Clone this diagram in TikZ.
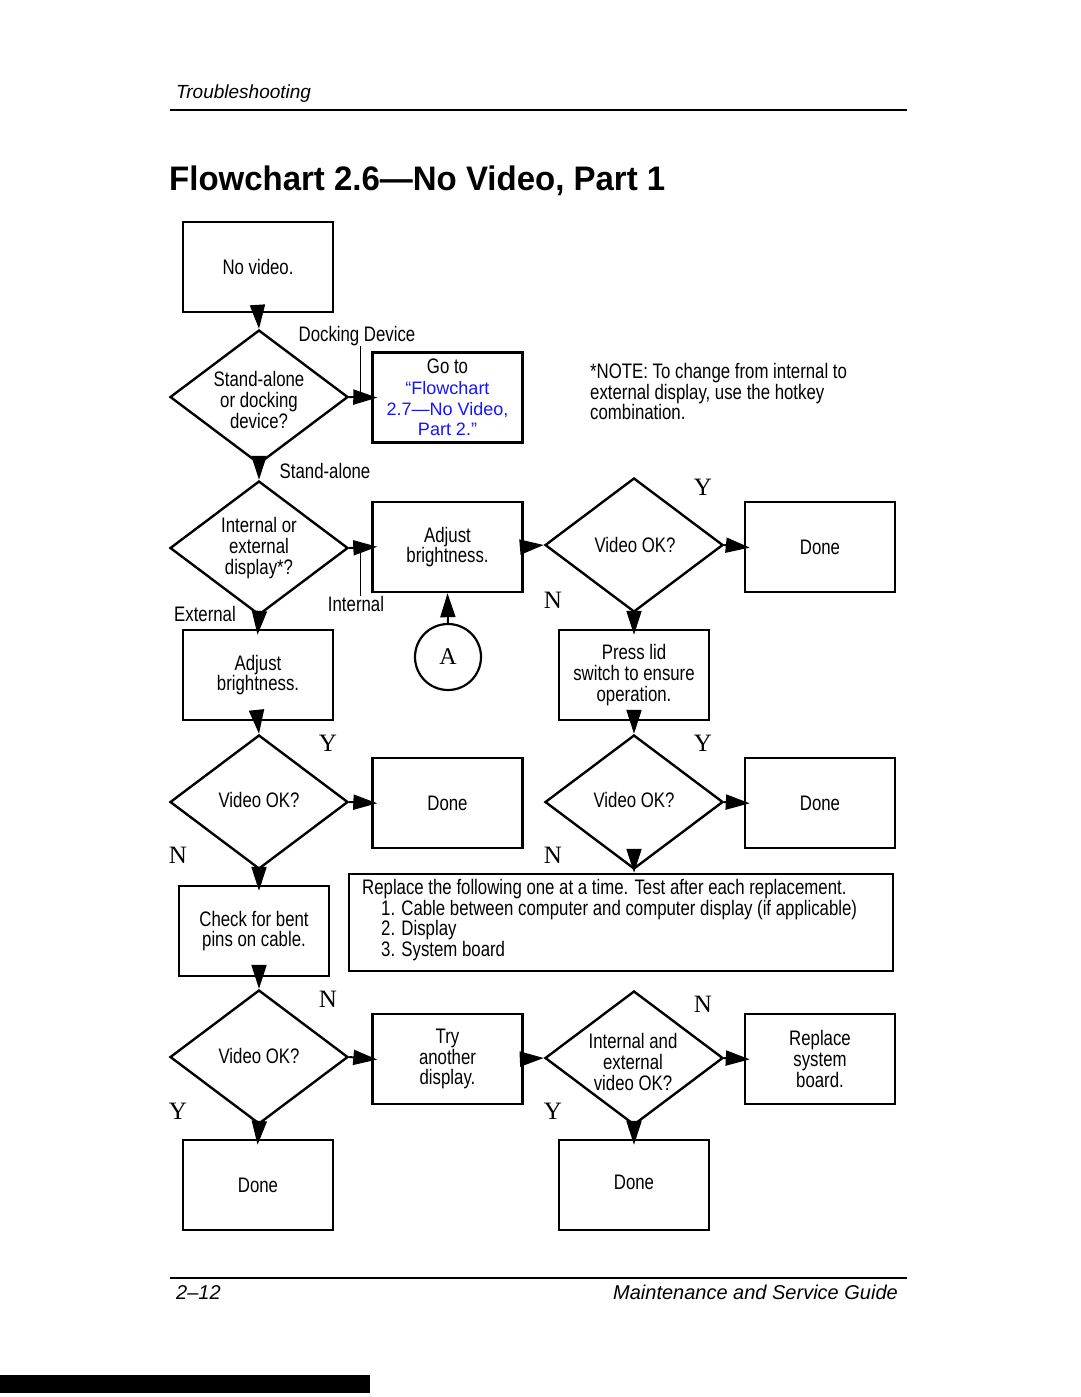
\documentclass[tikz,border=0pt]{standalone}
\usepackage{fontspec}
\setmainfont{Liberation Sans}[FakeStretch=0.8]
\newfontfamily\ynfont{Liberation Serif}
\newfontfamily\hdrfont{Liberation Sans}
\newfontfamily\titlefont{Liberation Sans}[FakeStretch=0.97]
\usetikzlibrary{arrows.meta,shapes.geometric}
\definecolor{linkblue}{RGB}{20,20,255}
\newcommand{\lnk}[1]{{\hdrfont\fontsize{18}{20.7}\selectfont\color{linkblue}#1}}
\begin{document}
\begin{tikzpicture}[x=1pt,y=-1pt,
  txt/.style={font=\fontsize{21}{20.7}\selectfont},
  box/.style={draw,line width=2.4pt,rectangle,minimum width=150pt,minimum height=90pt,inner sep=0pt,align=center,txt},
  dia/.style={draw,line width=2.4pt,diamond,minimum width=178pt,minimum height=134pt,inner sep=0pt},
  dtext/.style={align=center,inner sep=0pt,txt},
  lbl/.style={inner sep=0pt,txt},
  yn/.style={inner sep=0pt,font=\ynfont\fontsize{25}{25}\selectfont},
  conn/.style={line width=2pt,-{Triangle[length=24pt,width=15pt]}},
  connb/.style={conn,shorten >=-6pt},
  leader/.style={line width=0.9pt}
]
\useasboundingbox (0,0) rectangle (1080,1397);

% header / footer
\node[anchor=base west,inner sep=0pt,font=\hdrfont\itshape\fontsize{19}{19}\selectfont] (hdr) at (176,99) {Troubleshooting};
\draw[line width=1.3pt] (170,110) coordinate (hl1) -- (907,110) coordinate (hl2);
\node[anchor=base west,inner sep=0pt,font=\titlefont\bfseries\fontsize{34}{34}\selectfont] (title) at (169,190) {Flowchart 2.6—No Video, Part 1};
\draw[line width=1.3pt] (170,1278) coordinate (fl1) -- (907,1278) coordinate (fl2);
\node[anchor=base west,inner sep=0pt,font=\hdrfont\itshape\fontsize{20}{20}\selectfont] (pg) at (176,1299) {2–12};
\node[anchor=base east,inner sep=0pt,font=\hdrfont\itshape\fontsize{20}{20}\selectfont] (guide) at (898,1299) {Maintenance and Service Guide};
\fill (0,1375) rectangle (370,1393);

% boxes
\node[box] (nov) at (258,267) {No video.};
\node[box] (goto) at (447.5,397.5) {Go to\\\lnk{“Flowchart}\\\lnk{2.7—No Video,}\\\lnk{Part 2.”}};
\node[box] (adj1) at (447.5,547) {Adjust\\brightness.};
\node[box] (done1) at (820,547) {Done};
\node[box] (adj2) at (258,675) {Adjust\\brightness.};
\node[box] (press) at (634,675) {Press lid\\switch to ensure\\operation.};
\node[box] (done2) at (447.5,803) {Done};
\node[box] (done3) at (820,803) {Done};
\node[box] (check) at (254,931) {Check for bent\\pins on cable.};
\node[box,minimum width=544pt,minimum height=97pt] (repl) at (621,922.5) {};
\node[anchor=north west,align=left,inner sep=0pt,txt] (repltxt) at (362,879) {Replace the following one at a time. Test after each replacement.\\
\hspace*{19pt}1. Cable between computer and computer display (if applicable)\\
\hspace*{19pt}2. Display\\
\hspace*{19pt}3. System board};
\node[box] (try) at (447.5,1059) {Try\\another\\display.};
\node[box] (rsb) at (820,1059) {Replace\\system\\board.};
\node[box] (done4) at (258,1185) {Done};
\node[box] (done5) at (634,1185) {};
\node[lbl] (done5t) at (634,1182) {Done};

% diamonds
\node[dia] (d1) at (259,397) {};
\node[dtext] (d1t) at (259,400) {Stand-alone\\or docking\\device?};
\node[dia] (d2) at (259,548) {};
\node[dtext] (d2t) at (259,548) {Internal or\\external\\display*?};
\node[dia] (v1) at (634,545) {};
\node[dtext] (v1t) at (635,545) {Video OK?};
\node[dia] (v2) at (259,802) {};
\node[dtext] (v2t) at (259,800) {Video OK?};
\node[dia] (v3) at (634,802) {};
\node[dtext] (v3t) at (634,800) {Video OK?};
\node[dia] (v4) at (259,1057) {};
\node[dtext] (v4t) at (259,1056) {Video OK?};
\node[dia] (v5) at (634,1058) {};
\node[dtext] (v5t) at (633,1062) {Internal and\\external\\video OK?};

% connector A
\node[draw,circle,line width=2.2pt,minimum size=66pt,inner sep=0pt,font=\ynfont\fontsize{24}{24}\selectfont] (cA) at (448,657) {A};

% note
\node[anchor=north west,align=left,inner sep=0pt,txt] (note) at (590,363) {*NOTE: To change from internal to\\external display, use the hotkey\\combination.};

% labels
\node[lbl] (ldock) at (357,336) {Docking Device};
\node[lbl] (lstand) at (325,471) {Stand-alone};
\node[lbl] (lext) at (205,614) {External};
\node[lbl] (lint) at (356,604) {Internal};
\node[yn] (y1) at (703,487) {Y};
\node[yn] (n1) at (553,600) {N};
\node[yn] (y2) at (328,743) {Y};
\node[yn] (n2) at (178,855) {N};
\node[yn] (y3) at (703,743) {Y};
\node[yn] (n3) at (553,855) {N};
\node[yn] (n4) at (328,999) {N};
\node[yn] (y4) at (178,1111) {Y};
\node[yn] (n5) at (703,1004) {N};
\node[yn] (y5) at (553,1111) {Y};

% leader lines
\draw[leader] (ldock.south -| 360,0) -- (360,397);
\draw[leader] (360,548) -- (lint.north -| 360,0);

% connectors
\draw[conn] (nov.south) -- (d1.north);
\draw[connb] (d1.east) -- (goto.west);
\draw[conn] (d1.south) -- (d2.north);
\draw[connb] (d2.east) -- (adj1.west);
\draw[connb] (d2.south) -- (adj2.north);
\draw[conn] ([xshift=-3pt]adj1.east) -- (v1.west);
\draw[connb] (v1.east) -- (done1.west);
\draw[connb] (v1.south) -- (press.north);
\draw[conn] (cA.north) -- (adj1.south);
\draw[conn] ([yshift=-3pt]adj2.south) -- (v2.north);
\draw[connb] (v2.east) -- (done2.west);
\draw[conn] ([yshift=-3pt]press.south) -- (v3.north);
\draw[connb] (v3.east) -- (done3.west);
\draw[connb] (v2.south) -- (v2.south |- check.north);
\draw[conn] (v3.south) -- (v3.south |- repl.north);
\draw[conn] ([yshift=-3pt]v4.north |- check.south) -- (v4.north);
\draw[connb] (v4.east) -- (try.west);
\draw[connb] (v4.south) -- (done4.north);
\draw[conn] ([xshift=-3pt]try.east) -- (v5.west);
\draw[connb] (v5.east) -- (rsb.west);
\draw[connb] (v5.south) -- (done5.north);
\end{tikzpicture}
\end{document}
